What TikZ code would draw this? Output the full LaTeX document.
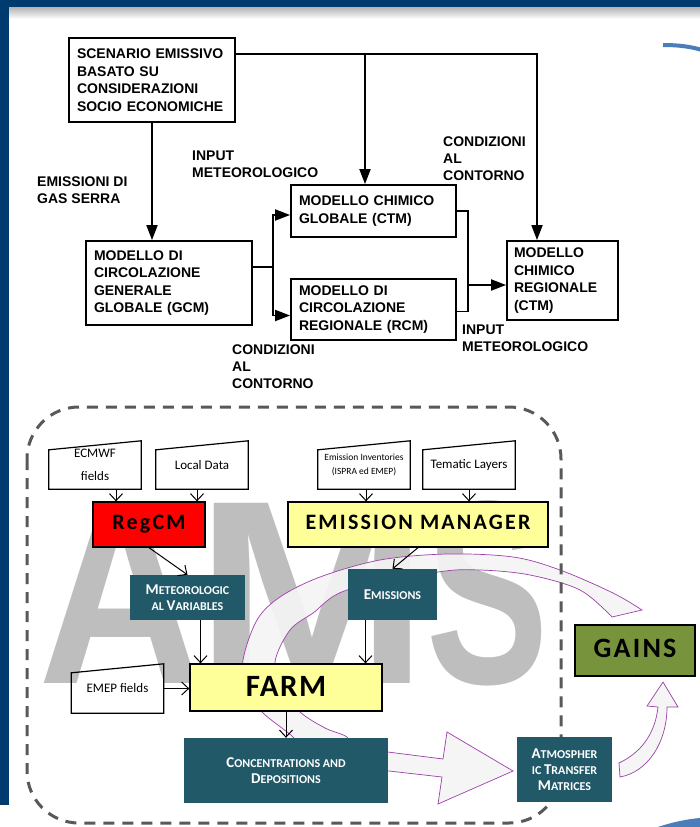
\documentclass[tikz,border=0pt]{standalone}
\usepackage{fontspec}
\setmainfont{Liberation Sans}
\newfontfamily\calibri{Carlito}
\usetikzlibrary{arrows.meta, positioning}

\definecolor{slideblue}{HTML}{003B6F}
\definecolor{accentblue}{HTML}{4A7EBB}
\definecolor{boxteal}{HTML}{215968}
\definecolor{boxyellow}{HTML}{FFFF99}
\definecolor{gainsgreen}{HTML}{77933C}
\definecolor{bandpurple}{HTML}{9E3FAA}
\definecolor{dashgray}{HTML}{595959}
\definecolor{amsgray}{HTML}{BEBEBE}

% small caps of the output boxes
\newcommand{\smc}[2]{{\fontsize{15}{16}\selectfont #1}#2}

\tikzset{
  flow/.style={draw, line width=1.8pt, fill=white, align=left, inner xsep=8pt, inner ysep=0pt,
    font=\fontsize{14}{17.5}\selectfont\bfseries},
  lbl/.style={anchor=west, align=left, inner sep=0pt, font=\fontsize{14}{17}\selectfont\bfseries},
  conn/.style={line width=1.8pt},
  arr/.style={conn, -{Triangle[length=15pt, width=11pt]}},
  manual/.style={minimum width=92pt, minimum height=48pt, inner sep=0pt, align=center,
    font=\calibri\fontsize{13}{23}\selectfont},
  model/.style={draw, line width=1.3pt, minimum height=45pt, inner sep=0pt,
    font=\calibri\bfseries\fontsize{22}{22}\selectfont\addfontfeature{LetterSpace=10}},
  output/.style={fill=boxteal, text=white, align=center, inner sep=0pt,
    font=\calibri\bfseries\fontsize{12}{16}\selectfont},
  feed/.style={line width=1pt, -{Straight Barb[length=7pt, width=13pt]}},
  band/.style={fill=gray!8, fill opacity=0.92, draw=bandpurple, line width=0.7pt},
  ams/.style={anchor=base west, inner sep=0pt, text=amsgray, font=\fontsize{262}{262}\selectfont\bfseries},
}

\begin{document}
\begin{tikzpicture}[x=1pt, y=-1pt]
    \useasboundingbox (0,0) rectangle (700,827);

    % slide background
    \fill[white] (0,0) rectangle (700,827);
    \shade[top color=black!30, bottom color=white] (9,7) rectangle (700,19);
    \fill[slideblue] (0,0) rectangle (700,7);
    \fill[slideblue] (0,0) rectangle (9,805);
    \draw[accentblue, line width=4pt] (663,45) .. controls (680,45) and (692,47) .. (702,50);
    \fill[accentblue] (655,828) .. controls (672,822) and (688,819) .. (700,818) -- (700,828) -- cycle;


    % draw upper chain of models
    \node[flow, text width=150pt, minimum height=84pt] (scen) at (152,80)
        {SCENARIO EMISSIVO\\BASATO SU\\CONSIDERAZIONI\\SOCIO ECONOMICHE};
    \node[flow, text width=150pt, minimum height=84pt] (gcm) at (169,283)
        {MODELLO DI\\CIRCOLAZIONE\\GENERALE\\GLOBALE (GCM)};
    \node[flow, text width=149pt, minimum height=52pt] (ctmg) at (373.5,211)
        {MODELLO CHIMICO\\GLOBALE (CTM)};
    \node[flow, text width=149pt, minimum height=61pt] (rcm) at (373.5,309.5)
        {MODELLO DI\\CIRCOLAZIONE\\REGIONALE (RCM)};
    \node[flow, text width=97pt, inner xsep=7pt, minimum height=79pt] (ctmr) at (562.5,280.5)
        {MODELLO\\CHIMICO\\REGIONALE\\(CTM)};

    % draw labels on the links
    \node[lbl] (ghg) at (37,190) {EMISSIONI DI\\GAS SERRA};
    \node[lbl] (met1) at (192,164.5) {INPUT\\METEOROLOGICO};
    \node[lbl] (bc1) at (443,158.5) {CONDIZIONI\\AL\\CONTORNO};
    \node[lbl] (bc2) at (232,366.5) {CONDIZIONI\\AL\\CONTORNO};
    \node[lbl] (met2) at (462,338.5) {INPUT\\METEOROLOGICO};

    % draw links
    \coordinate (t1) at (365,54);
    \coordinate (t2) at (537,54);
    \coordinate (j1) at (273,267);
    \coordinate (j2) at (468,285);
    \draw[arr] (scen.east |- t2) -- (t2) -- (t2 |- ctmr.north);
    \draw[arr] (t1) -- (t1 |- ctmg.north);
    \draw[arr] (scen.south) -- (scen.south |- gcm.north);
    \draw[conn] (gcm.east |- j1) -- (j1);
    \draw[arr] (j1) |- ([yshift=-4pt]ctmg.west);
    \draw[arr] (j1) |- ([yshift=-6pt]rcm.west);
    \draw[conn] (ctmg.east) -| (j2) |- ([yshift=-2pt]rcm.east);
    \draw[arr] (j2) -- (j2 -| ctmr.west);


    % AMS letters in the background
    \node[ams] (amsa) at (38,683) {\scalebox{0.87}[1]{A}};
    \node[ams] (amsm) at (195,683) {\scalebox{1.07}[1]{M}};
    \node[ams] (amss) at (426,683) {\scalebox{0.7}[1]{S}};

    % ring arrow behind the models
    \draw[band] plot[smooth, tension=0.55] coordinates {(300,750) (293,737) (262,712) (246,688)
            (243,660) (257,620) (280,597) (320,577) (380,560) (447,554) (513,557) (560,570)
            (613,593) (642,610)}
        -- plot[smooth, tension=0.55] coordinates {(612,617) (580,590) (530,575) (480,570)
            (438,572) (347,590) (313,613) (290,630) (275,662) (283,690) (300,712) (325,728)
            (347,737) (355,750)}
        -- cycle;

    % fat arrows towards GAINS
    \draw[band] (380,751) -- (443,759) -- (447,732) -- (513,771) -- (438,804) -- (442,777) -- (380,770) -- cycle;
    \draw[band] (619,763) .. controls (640,753) and (655,735) .. (658,707) -- (647,706) -- (663,682)
        -- (678,707) -- (667,707) .. controls (667,742) and (648,772) .. (620,777) -- cycle;

    % dashed frame round the modelling system
    \draw[dashgray, line width=3pt, dash pattern=on 11pt off 8pt, rounded corners=52pt]
        (27,407) rectangle (561,823);

    % draw input data
    \node[manual] (ecmwf) at (95,465) {ECMWF\\fields};
    \node[manual] (local) at (202,465) {\raisebox{-4pt}{Local Data}};
    \node[manual, font=\calibri\fontsize{9.5}{14}\selectfont] (inv) at (364,465)
        {Emission Inventories\\(ISPRA ed EMEP)};
    \node[manual] (tema) at (469,465) {\raisebox{-4pt}{Tematic Layers}};
    \node[manual, minimum height=49pt] (emep) at (117.5,688.5) {\raisebox{-8pt}{EMEP fields}};
    \foreach \n in {ecmwf, local, inv, tema, emep}
        \draw[line width=1.2pt] (\n.south west) -- ([yshift=-9pt]\n.north west)
            -- (\n.north east) -- (\n.south east) -- cycle;

    % draw models
    \node[model, fill=red, minimum width=112pt] (regcm) at (149,524.5) {\raisebox{5pt}{RegCM}};
    \node[model, fill=boxyellow, minimum width=260pt] (emman) at (418,524.5)
        {\raisebox{5pt}{EMISSION MANAGER}};
    \node[model, fill=boxyellow, minimum width=192pt, minimum height=47pt,
        font=\calibri\bfseries\fontsize{31}{31}\selectfont\addfontfeature{LetterSpace=5}] (farm) at (286,687.5)
        {\raisebox{2pt}{FARM}};
    \node[model, fill=gainsgreen, minimum width=120pt, minimum height=51pt,
        font=\calibri\bfseries\fontsize{28}{28}\selectfont\addfontfeature{LetterSpace=8}] (gains) at (635,650.5)
        {\raisebox{4pt}{GAINS}};

    % draw outputs
    \node[output, minimum width=115pt, minimum height=45pt] (metvar) at (187.5,597.5)
        {\smc{M}{ETEOROLOGIC}\\\smc{}{AL }\smc{V}{ARIABLES}};
    \node[output, minimum width=89pt, minimum height=51pt] (emis) at (392.5,594.5)
        {\smc{E}{MISSIONS}};
    \node[output, minimum width=204pt, minimum height=65pt] (conc) at (286,770.5)
        {\smc{C}{ONCENTRATIONS AND}\\\smc{D}{EPOSITIONS}};
    \node[output, minimum width=95pt, minimum height=65pt] (atm) at (564.5,769.5)
        {\smc{A}{TMOSPHER}\\\smc{}{IC }\smc{T}{RANSFER}\\\smc{M}{ATRICES}};

    % draw feeds
    \draw[feed] ([xshift=21pt]ecmwf.south) -- ([xshift=21pt]ecmwf.south |- regcm.north);
    \draw[feed] ([xshift=-5pt]local.south) -- ([xshift=-5pt]local.south |- regcm.north);
    \draw[feed] ([xshift=2pt]inv.south) -- ([xshift=2pt]inv.south |- emman.north);
    \draw[feed] (tema.south) -- (tema.south |- emman.north);
    \draw[feed] (regcm.south) -- (metvar.north);
    \draw[feed] (emman.south) -- (emis.north);
    \draw[feed] ([xshift=13pt]metvar.south) -- ([xshift=13pt]metvar.south |- farm.north);
    \draw[feed] ([xshift=-27pt]emis.south) -- ([xshift=-27pt]emis.south |- farm.north);
    \draw[feed] (emep.east) -- (emep.east -| farm.west);
    \draw[feed] (farm.south) -- (conc.north);
\end{tikzpicture}
\end{document}
